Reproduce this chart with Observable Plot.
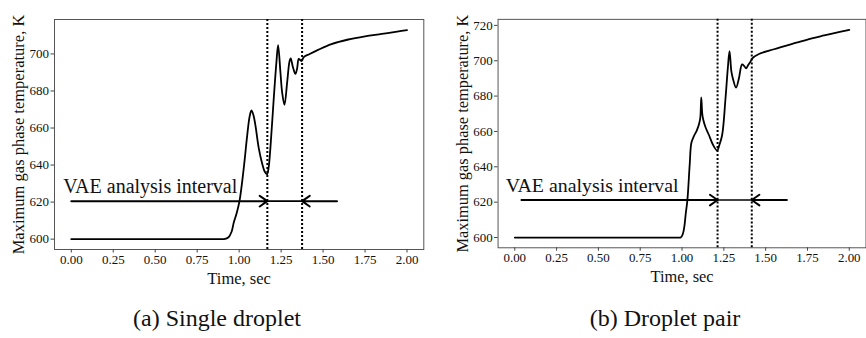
<!DOCTYPE html>
<html>
<head>
<meta charset="utf-8">
<script src="https://cdn.jsdelivr.net/npm/d3@7"></script>
<script src="https://cdn.jsdelivr.net/npm/@observablehq/plot@0.6"></script>
<style>
  html, body { margin: 0; padding: 0; background: #fff; }
  body { width: 866px; height: 338px; overflow: hidden; position: relative; font-family: "Liberation Serif", "DejaVu Serif", serif; }
  .panel { position: absolute; top: 0; }
  .caption { position: absolute; top: 306px; font-size: 24px; line-height: 24px; color: #111; transform: translateX(-50%); white-space: nowrap; }
</style>
</head>
<body>
<div id="left" class="panel" style="left:0px"></div>
<div id="right" class="panel" style="left:433px"></div>
<div class="caption" style="left:217px">(a) Single droplet</div>
<div class="caption" style="left:665px">(b) Droplet pair</div>
<script>
// ---- data ----
const xTicks = [0, 0.25, 0.5, 0.75, 1.0, 1.25, 1.5, 1.75, 2.0];
const leftYTicks = [600, 620, 640, 660, 680, 700];
const rightYTicks = [600, 620, 640, 660, 680, 700, 720];

// (a) single droplet: time (s) and max gas temperature (K)
const leftTime = [0, 0.25, 0.5, 0.7, 0.85, 0.9, 0.91, 0.937, 0.955, 0.968, 0.985, 1.002, 1.027, 1.048, 1.062, 1.073, 1.085, 1.097, 1.117, 1.137, 1.152, 1.166, 1.176, 1.186, 1.206, 1.222, 1.232, 1.246, 1.256, 1.27, 1.286, 1.3, 1.307, 1.32, 1.335, 1.345, 1.355, 1.365, 1.372, 1.385, 1.42, 1.47, 1.55, 1.65, 1.75, 1.85, 1.95, 2.0];
const leftTemp = [600, 600, 600, 600, 600, 600, 600, 601, 604, 609, 614, 620.5, 638, 656, 666, 669.5, 667, 661.4, 649, 640.8, 636.5, 635, 639, 649, 675.8, 695.5, 704.8, 690, 679.3, 672.5, 684.7, 696, 697.6, 693, 689.2, 692, 697.3, 696.6, 696.2, 698.3, 700, 702.2, 705.3, 707.8, 709.5, 710.8, 712.2, 712.9];

// (b) droplet pair
const rightTime = [0, 0.25, 0.5, 0.75, 0.9, 0.96, 0.98, 0.992, 1.005, 1.015, 1.022, 1.032, 1.046, 1.056, 1.071, 1.088, 1.101, 1.109, 1.115, 1.121, 1.127, 1.14, 1.161, 1.185, 1.21, 1.222, 1.24, 1.26, 1.274, 1.284, 1.295, 1.304, 1.323, 1.34, 1.359, 1.372, 1.383, 1.395, 1.409, 1.42, 1.46, 1.55, 1.65, 1.75, 1.85, 1.95, 2.0];
const rightTemp = [600, 600, 600, 600, 600, 600, 600, 600, 602, 607, 613.3, 621, 641.4, 653.6, 657.3, 660.5, 663.9, 667.5, 679.2, 670, 666.6, 662.5, 658, 652.5, 649.2, 652, 658, 678.8, 696, 705.4, 694, 690, 684.8, 690, 697.9, 697, 695.7, 697.5, 699.4, 701.3, 703.8, 706.5, 709.3, 712, 714.3, 716.5, 717.5];

// annotation positions (data units)
const leftMarkers = [1.168, 1.375];
const rightMarkers = [1.2125, 1.417];
const leftArrowFrom = [0.0, 1.583];
const rightArrowFrom = [0.04, 1.627];
const leftArrowLevel = 620.5;
const rightArrowLevel = 621.2;
const annotationText = "VAE analysis interval";
const leftTextPos = [-0.048, 624.8];
const rightTextPos = [-0.054, 625.7];

const xLabel = "Time, sec";
const yLabel = "Maximum gas phase temperature, K";

function panel(cfg) {
  const series = cfg.time.map((t, i) => ({t, k: cfg.temp[i]}));
  const arrows = cfg.arrowFrom.map((a, i) => ({x1: a, x2: cfg.markers[i], y: cfg.level}));
  const mid = [{x1: cfg.markers[0], x2: cfg.markers[1], y: cfg.level}];
  return Plot.plot({
    width: cfg.width,
    height: 290,
    marginLeft: cfg.marginLeft,
    marginRight: cfg.marginRight,
    marginTop: 19,
    marginBottom: 41,
    style: {fontFamily: "'Liberation Serif', serif", fontSize: "13px", color: "#111", background: "transparent"},
    x: {domain: [-0.1, 2.1]},
    y: {domain: cfg.yDomain},
    marks: [
      Plot.frame({stroke: "#555", strokeWidth: 1}),
      Plot.axisX({ticks: xTicks, tickFormat: d3.format(".2f"), tickSize: 3.5, tickPadding: 1.5, stroke: "#444", fontSize: 13, label: null}),
      Plot.axisY({ticks: cfg.yTicks, tickFormat: d3.format("d"), tickSize: 3.5, tickPadding: 2, stroke: "#444", fontSize: 13, label: null}),
      Plot.text([xLabel], {frameAnchor: "bottom", lineAnchor: "bottom", dy: 34, fontSize: 16.5}),
      Plot.text([yLabel], {frameAnchor: "left", textAnchor: "middle", lineAnchor: "middle", rotate: -90, dx: -36, fontSize: 16.5}),
      Plot.ruleX(cfg.markers, {stroke: "black", strokeWidth: 2, strokeDasharray: "2,2"}),
      Plot.line(series, {x: "t", y: "k", stroke: "black", strokeWidth: 1.8, curve: "catmull-rom"}),
      Plot.arrow(arrows, {x1: "x1", x2: "x2", y1: "y", y2: "y", stroke: "black", strokeWidth: 2, headLength: 7, headAngle: 70}),
      Plot.link(mid, {x1: "x1", x2: "x2", y1: "y", y2: "y", stroke: "black", strokeWidth: 1.6}),
      Plot.text([annotationText], {x: cfg.textPos[0], y: cfg.textPos[1], textAnchor: "start", lineAnchor: "bottom", fontSize: 20, fill: "#111"})
    ]
  });
}

document.getElementById("left").appendChild(panel({
  width: 433, marginLeft: 54, marginRight: 9.7,
  yDomain: [594.4, 718.6], yTicks: leftYTicks,
  time: leftTime, temp: leftTemp,
  markers: leftMarkers, arrowFrom: leftArrowFrom, level: leftArrowLevel, textPos: leftTextPos
}));
document.getElementById("right").appendChild(panel({
  width: 436, marginLeft: 65, marginRight: 0.5,
  yDomain: [594.2, 723.4], yTicks: rightYTicks,
  time: rightTime, temp: rightTemp,
  markers: rightMarkers, arrowFrom: rightArrowFrom, level: rightArrowLevel, textPos: rightTextPos
}));
</script>
</body>
</html>
